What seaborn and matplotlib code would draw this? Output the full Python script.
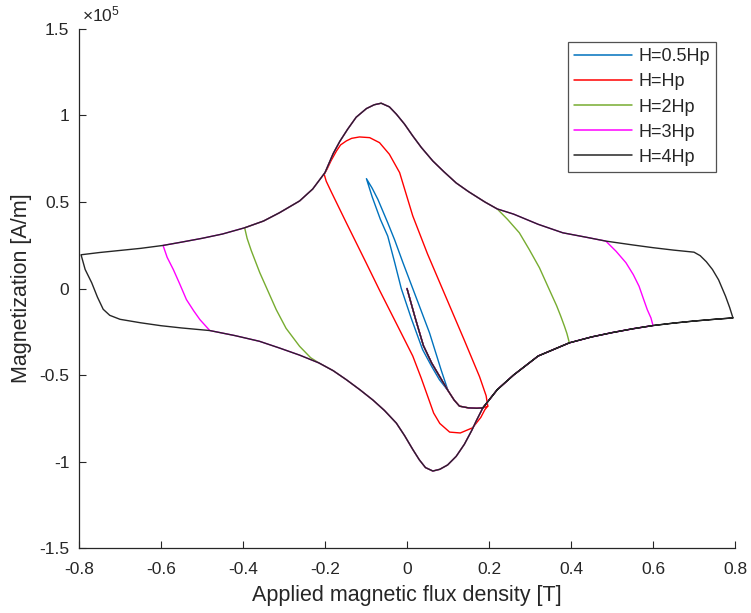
import matplotlib
matplotlib.use("Agg")
import matplotlib.pyplot as plt
import numpy as np
import pandas as pd
import seaborn as sns

# ---- magnetization loops, M in units of 1e5 A/m, B in T ----
# initial (virgin) magnetization curve
init_B = [0.0, 0.02, 0.04, 0.06, 0.08, 0.10, 0.115, 0.128, 0.15, 0.17, 0.185]
init_M = [0.0, -0.17, -0.33, -0.43, -0.51, -0.59, -0.645, -0.68, -0.69, -0.692, -0.69]

# major loop, descending branch (B from +0.8 to -0.8)
env_up_B = [0.795, 0.787, 0.777, 0.76, 0.745, 0.73, 0.715, 0.70, 0.65, 0.60, 0.55,
            0.485, 0.44, 0.38, 0.32, 0.26, 0.22, 0.19, 0.15, 0.12, 0.09, 0.063,
            0.035, 0.014, -0.006, -0.026, -0.043, -0.063, -0.08, -0.099, -0.124,
            -0.145, -0.164, -0.18, -0.20, -0.23, -0.262, -0.311, -0.35, -0.396,
            -0.45, -0.50, -0.55, -0.595, -0.65, -0.70, -0.75, -0.795]
env_up_M = [-0.17, -0.11, -0.045, 0.05, 0.11, 0.155, 0.19, 0.21, 0.222, 0.236, 0.252,
            0.274, 0.295, 0.322, 0.371, 0.43, 0.46, 0.50, 0.56, 0.61, 0.675, 0.737,
            0.815, 0.882, 0.95, 1.008, 1.05, 1.071, 1.062, 1.04, 0.99,
            0.92, 0.85, 0.78, 0.67, 0.575, 0.506, 0.438, 0.39, 0.351,
            0.315, 0.29, 0.268, 0.249, 0.232, 0.22, 0.208, 0.195]

# major loop, ascending branch (B from -0.8 to +0.8)
env_lo_B = [-0.795, -0.785, -0.769, -0.755, -0.741, -0.725, -0.70, -0.65, -0.60,
            -0.55, -0.481, -0.42, -0.36, -0.311, -0.262, -0.215, -0.18, -0.148,
            -0.115, -0.083, -0.055, -0.026, -0.006, 0.014, 0.03, 0.045, 0.063,
            0.08, 0.099, 0.12, 0.14, 0.158, 0.17, 0.185, 0.22, 0.26, 0.32, 0.396,
            0.45, 0.50, 0.55, 0.60, 0.65, 0.70, 0.75, 0.795]
env_lo_M = [0.195, 0.11, 0.033, -0.05, -0.12, -0.155, -0.178, -0.198, -0.215,
            -0.228, -0.243, -0.272, -0.305, -0.344, -0.385, -0.43, -0.475, -0.527,
            -0.585, -0.645, -0.705, -0.778, -0.85, -0.93, -0.99, -1.035, -1.055,
            -1.045, -1.02, -0.97, -0.9, -0.82, -0.76, -0.69, -0.585, -0.50, -0.39, -0.314,
            -0.28, -0.255, -0.233, -0.214, -0.2, -0.188, -0.178, -0.17]

# H = 0.5Hp minor loop
half_down_B = [0.10, 0.083, 0.055, 0.03, 0.014, -0.01, -0.03, -0.047, -0.071, -0.085, -0.099]
half_down_M = [-0.59, -0.469, -0.257, -0.10, 0.0, 0.15, 0.28, 0.38, 0.515, 0.58, 0.635]
half_up_B = [-0.099, -0.085, -0.065, -0.047, -0.03, -0.014, 0.01, 0.038, 0.06, 0.079, 0.10]
half_up_M = [0.635, 0.53, 0.40, 0.303, 0.15, 0.0, -0.17, -0.353, -0.45, -0.527, -0.59]

# H = Hp loop
hp_down_B = [0.197, 0.193, 0.177, 0.14, 0.095, 0.05, 0.014, -0.018, -0.043, -0.067,
             -0.091, -0.116, -0.135, -0.148, -0.162, -0.172, -0.185, -0.195, -0.202]
hp_down_M = [-0.68, -0.62, -0.51, -0.30, -0.05, 0.20, 0.42, 0.67, 0.776, 0.843,
             0.872, 0.876, 0.868, 0.853, 0.83, 0.795, 0.74, 0.69, 0.66]
hp_up_B = [-0.202, -0.197, -0.185, -0.148, -0.10, -0.067, -0.02, 0.014, 0.035, 0.05,
           0.065, 0.08, 0.104, 0.13, 0.16, 0.18, 0.19, 0.197]
hp_up_M = [0.66, 0.62, 0.56, 0.38, 0.15, -0.01, -0.23, -0.39, -0.52, -0.62,
           -0.72, -0.78, -0.83, -0.835, -0.805, -0.745, -0.70, -0.68]

# H = 2Hp reversal curves
h2_down_B = [0.396, 0.39, 0.384, 0.375, 0.365, 0.347, 0.323, 0.298, 0.274, 0.245, 0.22]
h2_down_M = [-0.314, -0.26, -0.218, -0.16, -0.10, -0.006, 0.12, 0.226, 0.322, 0.40, 0.46]
h2_up_B = [-0.396, -0.39, -0.38, -0.359, -0.34, -0.319, -0.295, -0.262, -0.235, -0.215]
h2_up_M = [0.351, 0.29, 0.22, 0.091, -0.01, -0.122, -0.23, -0.334, -0.40, -0.43]

# H = 3Hp reversal curves
h3_down_B = [0.60, 0.595, 0.586, 0.576, 0.566, 0.552, 0.534, 0.51, 0.485]
h3_down_M = [-0.214, -0.17, -0.122, -0.055, 0.013, 0.08, 0.149, 0.215, 0.274]
h3_up_B = [-0.595, -0.585, -0.57, -0.555, -0.538, -0.52, -0.505, -0.481]
h3_up_M = [0.249, 0.18, 0.11, 0.03, -0.064, -0.13, -0.18, -0.243]

labels = ["H=0.5Hp", "H=Hp", "H=2Hp", "H=3Hp", "H=4Hp"]
colors = ["#0072BD", "#FF0000", "#77AC30", "#FF00FF", "#262626"]

x_ticks = [-0.8, -0.6, -0.4, -0.2, 0, 0.2, 0.4, 0.6, 0.8]
y_ticks = [-1.5, -1, -0.5, 0, 0.5, 1, 1.5]


def part(bs, ms, lo, hi, lo_open=False, hi_open=False):
    out_b, out_m = [], []
    for b, m in zip(bs, ms):
        ok_lo = b > lo if lo_open else b >= lo
        ok_hi = b < hi if hi_open else b <= hi
        if ok_lo and ok_hi:
            out_b.append(b)
            out_m.append(m)
    return out_b, out_m


def join(*pieces):
    bb, mm = [], []
    for b, m in pieces:
        bb += list(b)
        mm += list(m)
    return bb, mm


ini = (init_B, init_M)
paths = {
    "H=0.5Hp": join(part(init_B, init_M, 0, 0.10),
                    (half_down_B[1:], half_down_M[1:]),
                    (half_up_B[1:], half_up_M[1:])),
    "H=Hp": join(ini, (hp_down_B, hp_down_M), (hp_up_B[1:], hp_up_M[1:])),
    "H=2Hp": join(ini,
                  part(env_lo_B, env_lo_M, 0.185, 0.396, lo_open=True),
                  (h2_down_B[1:], h2_down_M[1:]),
                  part(env_up_B, env_up_M, -0.396, 0.22, hi_open=True, lo_open=True),
                  (h2_up_B, h2_up_M),
                  part(env_lo_B, env_lo_M, -0.215, 0.396, lo_open=True)),
    "H=3Hp": join(ini,
                  part(env_lo_B, env_lo_M, 0.185, 0.60, lo_open=True),
                  (h3_down_B[1:], h3_down_M[1:]),
                  part(env_up_B, env_up_M, -0.595, 0.485, hi_open=True, lo_open=True),
                  (h3_up_B, h3_up_M),
                  part(env_lo_B, env_lo_M, -0.481, 0.60, lo_open=True)),
    "H=4Hp": join(ini,
                  part(env_lo_B, env_lo_M, 0.185, 0.8, lo_open=True),
                  (env_up_B, env_up_M),
                  (env_lo_B, env_lo_M)),
}

frames = []
for lab in labels:
    b, m = paths[lab]
    frames.append(pd.DataFrame({"B": b, "M": m, "H": lab}))
df = pd.concat(frames, ignore_index=True)

sns.set_theme(style="ticks")
plt.rcParams["font.family"] = ["Liberation Sans", "DejaVu Sans"]
plt.rcParams["mathtext.fontset"] = "custom"
plt.rcParams["mathtext.rm"] = "Liberation Sans"
plt.rcParams["axes.unicode_minus"] = False

axc = "#262626"
fig = plt.figure(figsize=(7.51, 6.13), dpi=100)
ax = fig.add_axes([0.1052, 0.106, 0.8735, 0.8467])

sns.lineplot(data=df, x="B", y="M", hue="H", hue_order=labels,
             palette=dict(zip(labels, colors)), sort=False, estimator=None,
             units="H", linewidth=1.0, ax=ax)

ax.set_xlim(-0.8, 0.8)
ax.set_ylim(-1.5, 1.5)
ax.set_xticks(x_ticks)
ax.set_yticks(y_ticks)
ax.set_xticklabels([f"{v:g}" for v in x_ticks])
ax.set_yticklabels([f"{v:g}" for v in y_ticks])

for s in ["top", "right"]:
    ax.spines[s].set_visible(False)
for s in ["left", "bottom"]:
    ax.spines[s].set_color(axc)
    ax.spines[s].set_linewidth(0.9)
ax.tick_params(direction="in", length=5, width=0.8, colors=axc, labelsize=12.5)
ax.tick_params(axis="x", pad=10)
ax.tick_params(axis="y", pad=7)

ax.set_xlabel("Applied magnetic flux density [T]", fontsize=15.5, color=axc, labelpad=6)
ax.set_ylabel("Magnetization [A/m]", fontsize=15.5, color=axc, labelpad=5)

ax.text(0.004, 1.008, r"$\mathregular{\times10^{5}}$", transform=ax.transAxes,
        ha="left", va="bottom", fontsize=12.5, color=axc)

handles, labs = ax.get_legend_handles_labels()
leg = ax.legend(handles, labs, loc="upper right", bbox_to_anchor=(0.971, 0.975),
                fontsize=13, frameon=True, fancybox=False, borderpad=0.35,
                handlelength=3.2, handletextpad=0.35, labelspacing=0.45,
                borderaxespad=0.0)
leg.get_frame().set_edgecolor(axc)
leg.get_frame().set_linewidth(0.9)
for t in leg.get_texts():
    t.set_color(axc)
for l in leg.get_lines():
    l.set_linewidth(1.1)

fig.savefig("out.png", dpi=100)
